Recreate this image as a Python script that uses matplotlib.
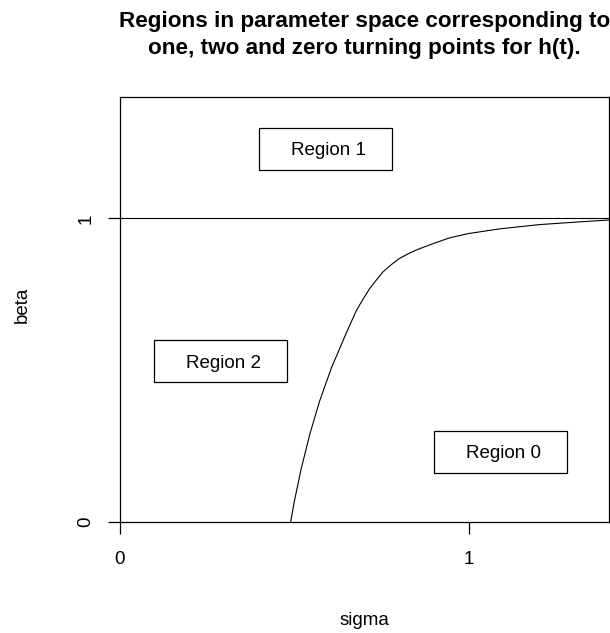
import matplotlib.pyplot as plt
from matplotlib.patches import Rectangle

plt.rcParams['font.family'] = ['Liberation Sans', 'DejaVu Sans']

# boundary curve between region 2 and region 0
sigma = [0.490, 0.500, 0.520, 0.545, 0.573, 0.607, 0.650, 0.678, 0.697, 0.716,
         0.735, 0.754, 0.778, 0.801, 0.825, 0.849, 0.897, 0.944, 0.997, 1.089,
         1.203, 1.318, 1.400]
beta = [0.000, 0.065, 0.175, 0.290, 0.399, 0.509, 0.625, 0.697, 0.734, 0.769,
        0.797, 0.824, 0.848, 0.868, 0.883, 0.896, 0.917, 0.936, 0.950, 0.966,
        0.980, 0.989, 0.995]

# legend-style labels, anchored at their top-left corner
region_names = ['Region 1', 'Region 2', 'Region 0']
region_x = [0.4, 0.1, 0.9]
region_y = [1.3, 0.6, 0.3]

W, H = 610, 633
fig = plt.figure(figsize=(W / 100, H / 100), dpi=100)
left, right, top, bottom = 119.5, 608.8, 97.3, 521.5
ax = fig.add_axes([left / W, 1 - bottom / H, (right - left) / W, (bottom - top) / H])
ax.set_xlim(0, 1.4)
ax.set_ylim(0, 1.4)

ax.plot(sigma, beta, color='black', lw=0.8)
ax.axhline(1, color='black', lw=0.8)

for name, x0, y0 in zip(region_names, region_x, region_y):
    bw, bh = 0.38, 0.14
    ax.add_patch(Rectangle((x0, y0 - bh), bw, bh, fill=False,
                           edgecolor='black', lw=0.9))
    ax.text(x0 + 0.091, y0 - bh / 2 - 0.022, name, fontsize=13.5,
            ha='left', va='baseline')

for s in ax.spines.values():
    s.set_linewidth(0.9)

ax.set_xticks([0, 1], labels=['0', '1'])
ax.set_yticks([0, 1], labels=['0', '1'], rotation=90,
              rotation_mode='anchor', ha='center', va='baseline')
ax.tick_params(axis='both', direction='out', length=8.6, width=0.9,
               labelsize=13.5)
ax.tick_params(axis='x', pad=13)
ax.tick_params(axis='y', pad=12.2)

xc = (left + right) / 2 / W
fig.text(xc, 1 - 26.7 / H, 'Regions in parameter space corresponding to',
         fontsize=16.2, fontweight='bold', ha='center', va='baseline')
fig.text(xc, 1 - 54.3 / H, 'one, two and zero turning points for h(t).',
         fontsize=16.2, fontweight='bold', ha='center', va='baseline')

fig.text(xc, 1 - 625 / H, 'sigma', fontsize=13.5, ha='center', va='baseline')
fig.text(26.6 / W, 1 - 305 / H, 'beta', fontsize=13.5, rotation=90,
         rotation_mode='anchor', ha='center', va='baseline')

fig.savefig('out.png', dpi=100)
